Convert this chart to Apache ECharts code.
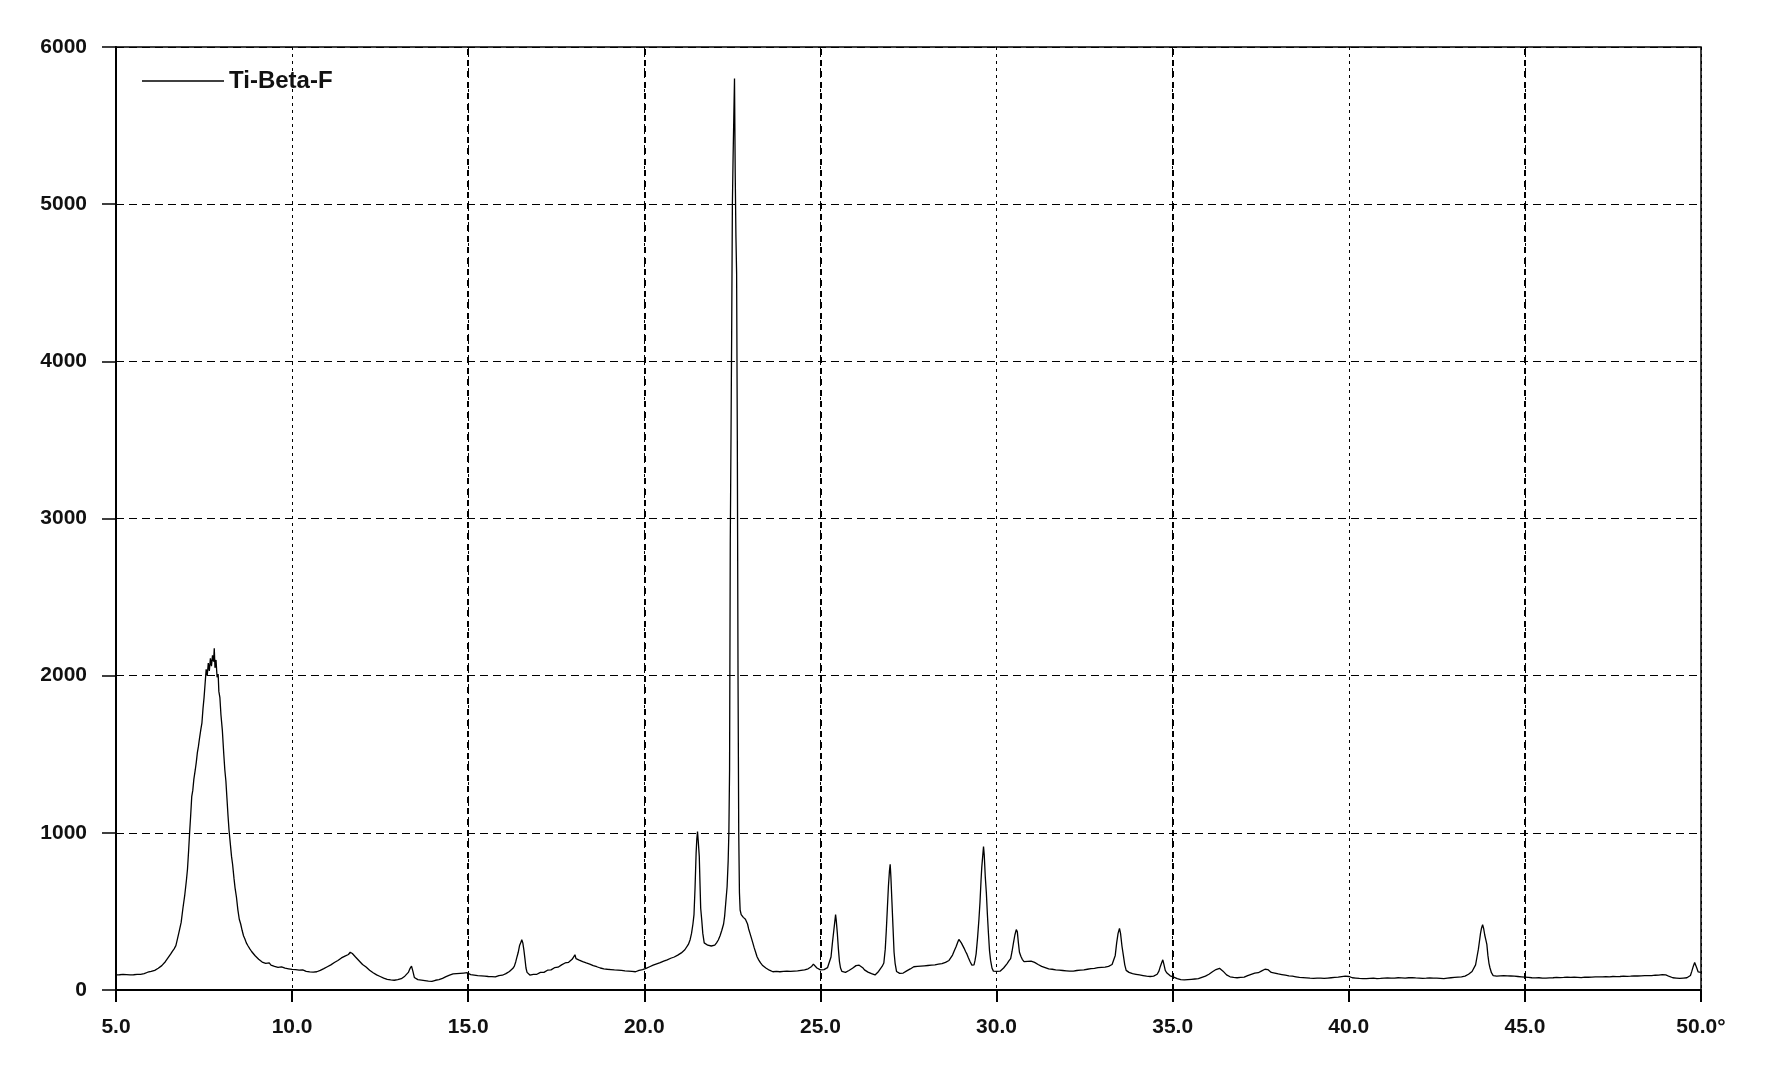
<!DOCTYPE html>
<html>
<head>
<meta charset="utf-8">
<script src="https://cdn.jsdelivr.net/npm/echarts@6/dist/echarts.min.js"></script>
<style>
html,body{margin:0;padding:0;background:#fff;}
#chart{width:1772px;height:1088px;}
</style>
</head>
<body>
<div id="chart"></div>
<script>
// ---- data: [2theta (deg), intensity (counts)] ----
const seriesName = 'Ti-Beta-F';
const xTickLabels = ['5.0','10.0','15.0','20.0','25.0','30.0','35.0','40.0','45.0','50.0°'];
const yTickLabels = ['0','1000','2000','3000','4000','5000','6000'];
const boldGridAngles = [15, 20, 25, 35, 45];

const scan5to10 = [[5.00,96],[5.05,92],[5.10,97],[5.15,94],[5.20,99],[5.25,95],[5.30,98],[5.35,101],[5.40,96],[5.45,100],[5.50,97],[5.55,103],[5.60,99],[5.65,104],[5.70,100],[5.75,107],[5.80,104],[5.85,109],[5.90,113],[5.95,110],[6.00,118],[6.05,115],[6.10,125],[6.15,129],[6.20,138],[6.25,142],[6.30,155],[6.35,166],[6.40,180],[6.45,196],[6.50,212],[6.55,228],[6.60,246],[6.65,262],[6.70,282],[6.75,330],[6.80,380],[6.85,430],[6.90,520],[6.95,600],[7.00,700],[7.03,770],[7.06,880],[7.09,1000],[7.12,1110],[7.15,1230],[7.18,1270],[7.21,1340],[7.25,1400],[7.28,1450],[7.31,1510],[7.34,1550],[7.37,1600],[7.41,1660],[7.44,1700],[7.47,1790],[7.50,1860],[7.53,1950],[7.56,2040],[7.59,2000],[7.62,2080],[7.65,2030],[7.68,2110],[7.71,2060],[7.74,2130],[7.77,2090],[7.79,2175],[7.81,2050],[7.84,2100],[7.87,1990],[7.90,2010],[7.92,1900],[7.95,1860],[7.98,1750],[8.02,1650],[8.06,1500],[8.09,1400],[8.12,1330],[8.15,1220],[8.18,1110],[8.21,1015],[8.25,920],[8.28,850],[8.31,800],[8.35,710],[8.38,650],[8.42,590],[8.46,510],[8.50,450],[8.54,420],[8.58,380],[8.62,345],[8.66,325],[8.70,300],[8.75,280],[8.80,262],[8.85,245],[8.90,236],[8.95,218],[9.00,208],[9.05,196],[9.10,190],[9.15,178],[9.20,182],[9.25,170],[9.30,166],[9.35,172],[9.40,158],[9.45,163],[9.50,150],[9.55,156],[9.60,144],[9.65,140],[9.70,147],[9.75,135],[9.80,139],[9.85,130],[9.90,135],[9.95,126],[10.00,131]];

const scan10to17 = [[10.05,124],[10.10,130],[10.15,122],[10.20,127],[10.25,120],[10.30,128],[10.35,124],[10.40,119],[10.45,126],[10.50,115],[10.55,121],[10.60,114],[10.65,120],[10.70,116],[10.75,118],[10.80,125],[10.85,129],[10.90,136],[10.95,140],[11.00,148],[11.05,152],[11.10,160],[11.15,166],[11.20,175],[11.25,182],[11.30,188],[11.35,196],[11.40,204],[11.45,210],[11.50,216],[11.55,222],[11.60,226],[11.65,240],[11.68,252],[11.71,232],[11.75,224],[11.80,210],[11.85,200],[11.90,186],[11.95,175],[12.00,162],[12.05,155],[12.10,146],[12.15,138],[12.20,126],[12.25,118],[12.30,110],[12.35,104],[12.40,96],[12.45,92],[12.50,86],[12.55,80],[12.60,76],[12.65,72],[12.70,68],[12.75,70],[12.80,64],[12.85,66],[12.90,62],[12.95,70],[13.00,66],[13.05,74],[13.10,72],[13.15,82],[13.20,88],[13.25,98],[13.30,112],[13.35,138],[13.39,152],[13.43,118],[13.47,80],[13.52,72],[13.57,66],[13.62,70],[13.67,63],[13.72,66],[13.77,60],[13.82,62],[13.87,57],[13.92,60],[13.97,55],[14.02,58],[14.07,62],[14.12,60],[14.17,66],[14.22,70],[14.27,74],[14.32,78],[14.37,85],[14.42,90],[14.47,94],[14.52,98],[14.57,102],[14.62,96],[14.67,104],[14.72,98],[14.77,106],[14.82,100],[14.87,108],[14.92,103],[14.97,110],[15.02,104],[15.07,98],[15.12,102],[15.17,95],[15.22,98],[15.27,92],[15.32,96],[15.37,90],[15.42,94],[15.47,88],[15.52,92],[15.57,86],[15.62,90],[15.67,85],[15.72,88],[15.77,84],[15.82,89],[15.87,92],[15.92,96],[15.97,94],[16.02,100],[16.07,104],[16.12,110],[16.17,118],[16.22,128],[16.27,138],[16.31,152],[16.35,180],[16.39,215],[16.42,240],[16.46,285],[16.50,305],[16.52,320],[16.55,300],[16.58,255],[16.61,200],[16.64,140],[16.67,112],[16.71,100],[16.75,95],[16.80,97],[16.85,100],[16.90,104],[16.95,100]];

const scan17to22 = [[17.00,108],[17.05,112],[17.10,116],[17.15,112],[17.20,122],[17.25,126],[17.30,130],[17.35,128],[17.40,138],[17.45,142],[17.50,148],[17.55,145],[17.60,156],[17.65,160],[17.70,168],[17.75,172],[17.80,180],[17.85,176],[17.90,188],[17.95,195],[18.00,205],[18.03,224],[18.06,200],[18.10,195],[18.15,190],[18.20,184],[18.25,180],[18.30,176],[18.35,172],[18.40,168],[18.45,165],[18.50,160],[18.55,155],[18.60,150],[18.65,148],[18.70,144],[18.75,140],[18.80,138],[18.85,135],[18.90,138],[18.95,132],[19.00,136],[19.05,130],[19.10,134],[19.15,128],[19.20,133],[19.25,127],[19.30,131],[19.35,125],[19.40,128],[19.45,122],[19.50,126],[19.55,120],[19.60,124],[19.65,118],[19.70,122],[19.75,116],[19.80,120],[19.85,125],[19.90,122],[19.95,130],[20.00,134],[20.05,138],[20.10,142],[20.15,148],[20.20,152],[20.25,158],[20.30,160],[20.35,166],[20.40,170],[20.45,174],[20.50,180],[20.55,184],[20.60,190],[20.65,192],[20.70,198],[20.75,202],[20.80,206],[20.85,210],[20.90,214],[20.95,222],[21.00,230],[21.05,236],[21.10,246],[21.15,256],[21.20,268],[21.25,290],[21.30,320],[21.34,360],[21.38,420],[21.41,480],[21.44,650],[21.47,870],[21.49,960],[21.51,1008],[21.53,950],[21.56,850],[21.58,680],[21.60,520],[21.63,445],[21.66,360],[21.70,300],[21.75,290],[21.80,285],[21.85,292],[21.90,280],[21.95,276]];

const scan22to25 = [[22.00,285],[22.05,300],[22.10,318],[22.15,345],[22.20,380],[22.25,420],[22.28,470],[22.31,550],[22.35,657],[22.38,820],[22.40,1000],[22.42,1400],[22.44,2850],[22.46,3500],[22.48,4200],[22.50,5000],[22.52,5300],[22.54,5550],[22.56,5800],[22.58,5200],[22.60,4800],[22.62,4560],[22.64,3500],[22.66,2000],[22.68,1000],[22.70,620],[22.72,509],[22.75,480],[22.78,470],[22.81,462],[22.84,468],[22.87,450],[22.90,445],[22.93,420],[22.96,390],[23.00,360],[23.04,330],[23.08,300],[23.12,268],[23.16,240],[23.20,212],[23.25,190],[23.30,172],[23.35,158],[23.40,148],[23.45,140],[23.50,132],[23.55,126],[23.60,120],[23.65,116],[23.70,112],[23.75,118],[23.80,110],[23.85,116],[23.90,112],[23.95,118],[24.00,114],[24.05,120],[24.10,113],[24.15,118],[24.20,112],[24.25,120],[24.30,115],[24.35,122],[24.40,118],[24.45,125],[24.50,120],[24.55,128],[24.60,124],[24.65,135],[24.70,140],[24.75,150],[24.80,165],[24.85,155],[24.90,140],[24.95,132]];

const scan25to30 = [[25.00,128],[25.05,124],[25.10,130],[25.15,136],[25.20,142],[25.25,150],[25.30,210],[25.34,300],[25.38,380],[25.41,440],[25.43,480],[25.45,440],[25.48,360],[25.51,260],[25.54,180],[25.57,140],[25.61,118],[25.66,106],[25.71,112],[25.76,118],[25.81,124],[25.86,128],[25.91,138],[25.96,145],[26.01,155],[26.06,166],[26.10,158],[26.15,150],[26.20,142],[26.25,128],[26.30,120],[26.35,114],[26.40,108],[26.45,104],[26.50,100],[26.55,96],[26.60,104],[26.65,118],[26.70,135],[26.75,150],[26.80,172],[26.84,260],[26.87,380],[26.90,520],[26.93,660],[26.96,760],[26.98,800],[27.00,720],[27.03,560],[27.06,400],[27.09,240],[27.12,170],[27.16,118],[27.20,110],[27.25,106],[27.30,112],[27.35,108],[27.40,116],[27.45,122],[27.50,128],[27.55,134],[27.60,140],[27.65,148],[27.70,144],[27.75,150],[27.80,146],[27.85,152],[27.90,148],[27.95,154],[28.00,150],[28.05,156],[28.10,152],[28.15,158],[28.20,154],[28.25,160],[28.30,158],[28.35,164],[28.40,160],[28.45,168],[28.50,172],[28.55,176],[28.60,180],[28.65,188],[28.70,200],[28.75,222],[28.80,250],[28.85,275],[28.90,305],[28.93,322],[28.97,312],[29.00,300],[29.04,290],[29.08,265],[29.12,245],[29.16,228],[29.20,205],[29.25,180],[29.30,158],[29.33,148],[29.36,160],[29.39,190],[29.42,230],[29.46,330],[29.50,450],[29.53,560],[29.56,700],[29.58,780],[29.61,860],[29.63,912],[29.65,860],[29.68,720],[29.71,620],[29.74,480],[29.77,360],[29.80,250],[29.83,190],[29.87,140],[29.91,120],[29.95,116]];

const scan30to35 = [[30.00,118],[30.05,114],[30.10,120],[30.15,128],[30.20,140],[30.25,150],[30.30,168],[30.35,185],[30.40,200],[30.44,245],[30.48,300],[30.52,350],[30.56,384],[30.59,370],[30.62,300],[30.65,240],[30.69,215],[30.73,195],[30.78,180],[30.83,176],[30.88,182],[30.93,178],[30.98,184],[31.03,180],[31.08,176],[31.13,170],[31.18,162],[31.23,156],[31.28,150],[31.33,146],[31.38,142],[31.43,138],[31.48,134],[31.53,130],[31.58,132],[31.63,126],[31.68,128],[31.73,122],[31.78,126],[31.83,120],[31.88,124],[31.93,118],[31.98,122],[32.03,116],[32.08,120],[32.13,124],[32.18,120],[32.23,128],[32.28,124],[32.33,130],[32.38,126],[32.43,132],[32.48,128],[32.53,136],[32.58,132],[32.63,140],[32.68,136],[32.73,142],[32.78,138],[32.83,146],[32.88,142],[32.93,148],[32.98,144],[33.03,150],[33.08,146],[33.13,154],[33.18,150],[33.23,158],[33.28,162],[33.33,172],[33.37,220],[33.41,300],[33.45,360],[33.49,392],[33.52,360],[33.56,280],[33.60,220],[33.64,160],[33.68,125],[33.72,118],[33.76,112],[33.81,108],[33.86,104],[33.91,108],[33.96,100],[34.01,104],[34.06,96],[34.11,100],[34.16,92],[34.21,96],[34.26,88],[34.31,92],[34.36,86],[34.41,90],[34.46,88],[34.51,94],[34.56,100],[34.61,120],[34.65,150],[34.69,175],[34.72,192],[34.75,165],[34.79,125],[34.83,110],[34.88,98],[34.93,90],[34.98,86]];

const scan35to40 = [[35.03,82],[35.08,76],[35.13,72],[35.18,68],[35.23,66],[35.28,70],[35.33,64],[35.38,68],[35.43,66],[35.48,72],[35.53,68],[35.58,74],[35.63,70],[35.68,76],[35.73,72],[35.78,78],[35.83,80],[35.88,84],[35.93,88],[35.98,94],[36.03,100],[36.08,108],[36.13,116],[36.18,122],[36.23,130],[36.28,134],[36.33,138],[36.38,132],[36.43,120],[36.48,108],[36.53,96],[36.58,88],[36.63,84],[36.68,86],[36.73,80],[36.78,84],[36.83,78],[36.88,82],[36.93,80],[36.98,84],[37.03,82],[37.08,88],[37.13,92],[37.18,96],[37.23,100],[37.28,104],[37.33,108],[37.38,112],[37.43,110],[37.48,118],[37.53,122],[37.58,126],[37.62,132],[37.66,124],[37.70,130],[37.75,120],[37.80,112],[37.85,106],[37.90,108],[37.95,100],[38.00,102],[38.05,96],[38.10,98],[38.15,92],[38.20,94],[38.25,88],[38.30,90],[38.35,86],[38.40,88],[38.45,82],[38.50,84],[38.55,78],[38.60,80],[38.65,76],[38.70,79],[38.75,74],[38.80,77],[38.85,72],[38.90,75],[38.95,70],[39.00,74],[39.05,71],[39.10,76],[39.15,72],[39.20,75],[39.25,70],[39.30,74],[39.35,71],[39.40,76],[39.45,73],[39.50,78],[39.55,75],[39.60,80],[39.65,77],[39.70,82],[39.75,79],[39.80,85],[39.85,82],[39.90,88],[39.95,92]];

const scan40to45 = [[40.00,86],[40.05,82],[40.10,78],[40.15,84],[40.20,76],[40.25,80],[40.30,74],[40.35,79],[40.40,73],[40.45,78],[40.50,72],[40.55,77],[40.60,74],[40.65,80],[40.70,75],[40.75,79],[40.80,73],[40.85,78],[40.90,74],[40.95,80],[41.00,76],[41.05,82],[41.10,77],[41.15,81],[41.20,75],[41.25,80],[41.30,76],[41.35,82],[41.40,78],[41.45,83],[41.50,77],[41.55,81],[41.60,76],[41.65,82],[41.70,78],[41.75,84],[41.80,79],[41.85,83],[41.90,77],[41.95,81],[42.00,76],[42.05,80],[42.10,74],[42.15,79],[42.20,75],[42.25,81],[42.30,77],[42.35,82],[42.40,76],[42.45,80],[42.50,75],[42.55,79],[42.60,74],[42.65,78],[42.70,73],[42.75,79],[42.80,76],[42.85,82],[42.90,78],[42.95,84],[43.00,80],[43.05,86],[43.10,82],[43.15,88],[43.20,84],[43.25,90],[43.30,88],[43.35,96],[43.40,100],[43.45,108],[43.50,118],[43.55,130],[43.60,160],[43.64,210],[43.68,260],[43.71,310],[43.74,360],[43.77,395],[43.80,415],[43.83,390],[43.86,350],[43.89,320],[43.92,290],[43.95,220],[43.98,170],[44.01,140],[44.05,110],[44.10,92],[44.15,86],[44.20,88],[44.25,84],[44.30,90],[44.35,86],[44.40,92],[44.45,87],[44.50,90],[44.55,85],[44.60,89],[44.65,84],[44.70,88],[44.75,82],[44.80,86],[44.85,80],[44.90,84],[44.95,78]];

const scan45to50 = [[45.00,82],[45.05,76],[45.10,80],[45.15,74],[45.20,78],[45.25,72],[45.30,77],[45.35,73],[45.40,78],[45.45,72],[45.50,76],[45.55,70],[45.60,75],[45.65,71],[45.70,77],[45.75,73],[45.80,78],[45.85,74],[45.90,80],[45.95,75],[46.00,79],[46.05,74],[46.10,80],[46.15,76],[46.20,82],[46.25,76],[46.30,80],[46.35,75],[46.40,81],[46.45,76],[46.50,80],[46.55,74],[46.60,79],[46.65,75],[46.70,82],[46.75,77],[46.80,81],[46.85,76],[46.90,82],[46.95,78],[47.00,84],[47.05,79],[47.10,83],[47.15,78],[47.20,84],[47.25,80],[47.30,85],[47.35,79],[47.40,84],[47.45,80],[47.50,86],[47.55,81],[47.60,85],[47.65,80],[47.70,86],[47.75,82],[47.80,88],[47.85,83],[47.90,87],[47.95,82],[48.00,88],[48.05,84],[48.10,90],[48.15,85],[48.20,89],[48.25,84],[48.30,90],[48.35,86],[48.40,92],[48.45,87],[48.50,91],[48.55,86],[48.60,92],[48.65,88],[48.70,94],[48.75,89],[48.80,95],[48.85,92],[48.90,98],[48.95,93],[49.00,96],[49.05,90],[49.10,86],[49.15,82],[49.20,78],[49.25,82],[49.30,76],[49.35,80],[49.40,74],[49.45,78],[49.50,76],[49.55,80],[49.60,78],[49.65,84],[49.70,92],[49.74,120],[49.78,150],[49.82,175],[49.85,168],[49.88,140],[49.92,115],[49.96,118],[50.00,112]];

const pattern = [].concat(scan5to10, scan10to17, scan17to22, scan22to25, scan25to30, scan30to35, scan35to40, scan40to45, scan45to50);

const FONT = "'Liberation Sans', Arial, sans-serif";
const chart = echarts.init(document.getElementById('chart'), null, {renderer: 'canvas'});
chart.setOption({
  animation: false,
  backgroundColor: '#fff',
  color: ['#000'],
  grid: {left: 116, right: 71, top: 47, bottom: 98, show: true, borderColor: '#000', borderWidth: 1.5, backgroundColor: 'transparent'},
  legend: {
    left: 137, top: 64, icon: 'rect', itemWidth: 82, itemHeight: 1.5, itemGap: 0,
    textStyle: {fontSize: 24, fontWeight: 'bold', color: '#111', fontFamily: FONT},
    data: [seriesName]
  },
  xAxis: {
    type: 'value', min: 5, max: 50, interval: 5,
    axisLine: {show: true, lineStyle: {color: '#000', width: 2}},
    axisTick: {show: true, length: 12, lineStyle: {color: '#000', width: 2}},
    axisLabel: {
      margin: 27, fontSize: 21, fontWeight: 'bold', color: '#111', fontFamily: FONT,
      formatter: function (v) { return xTickLabels[Math.round((v - 5) / 5)]; }
    },
    splitLine: {show: true, lineStyle: {color: '#000', width: 1, type: [3, 4]}}
  },
  yAxis: {
    type: 'value', min: 0, max: 6000, interval: 1000,
    axisLine: {show: true, lineStyle: {color: '#000', width: 2}},
    axisTick: {show: true, length: 14, lineStyle: {color: '#000', width: 1.5}},
    axisLabel: {
      margin: 29, fontSize: 21, fontWeight: 'bold', color: '#111', fontFamily: FONT,
      formatter: function (v) { return yTickLabels[Math.round(v / 1000)]; }
    },
    splitLine: {show: true, lineStyle: {color: '#000', width: 1, type: [8, 5]}}
  },
  series: [{
    name: seriesName,
    type: 'line',
    data: pattern,
    showSymbol: false,
    symbol: 'none',
    lineStyle: {color: '#000', width: 1.3},
    itemStyle: {color: '#000'},
    markLine: {
      silent: true,
      symbol: ['none', 'none'],
      label: {show: false},
      lineStyle: {color: '#000', width: 2, type: [6, 5]},
      data: boldGridAngles.map(function (a) { return {xAxis: a}; })
    }
  }]
});
</script>
</body>
</html>
